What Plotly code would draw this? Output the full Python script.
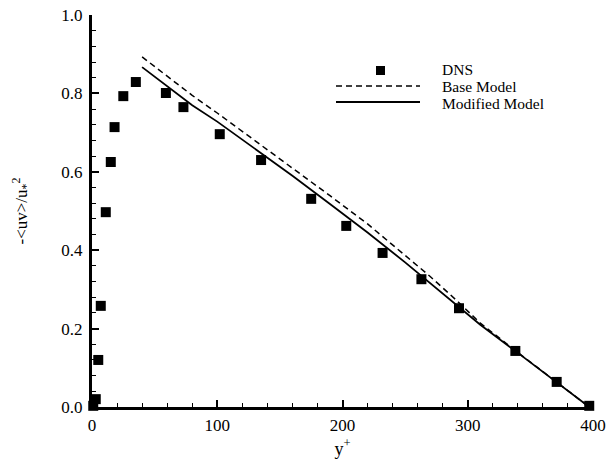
import plotly.graph_objects as go

# DNS data
dns_x = [1, 3, 5, 7, 11, 15, 18, 25, 35, 59, 73, 102, 135, 175, 203, 232, 263, 293, 338, 371, 397]
dns_y = [0.003, 0.02, 0.12, 0.258, 0.497, 0.625, 0.714, 0.793, 0.829, 0.801, 0.765, 0.696,
         0.630, 0.531, 0.462, 0.393, 0.326, 0.252, 0.143, 0.064, 0.003]

# Base model (dashed)
base_x = [40, 60, 80, 100, 130, 160, 190, 220, 250, 270, 290, 310, 340, 370, 397]
base_y = [0.893, 0.843, 0.795, 0.750, 0.680, 0.610, 0.539, 0.467, 0.388, 0.333, 0.275, 0.214,
          0.139, 0.065, 0.0]

# Modified model (solid)
mod_x = [40, 60, 80, 100, 130, 160, 190, 220, 250, 280, 310, 340, 370, 397]
mod_y = [0.867, 0.818, 0.77, 0.728, 0.66, 0.59, 0.518, 0.445, 0.369, 0.289, 0.21, 0.138, 0.065, 0.0]

legend_labels = ["DNS", "Base Model", "Modified Model"]

FONT = "Liberation Serif, Times New Roman, serif"

fig = go.Figure()
fig.add_trace(go.Scatter(x=base_x, y=base_y, mode="lines", name=legend_labels[1],
                         line=dict(color="black", width=1.5, dash="6px,4px"), showlegend=False))
fig.add_trace(go.Scatter(x=mod_x, y=mod_y, mode="lines", name=legend_labels[2],
                         line=dict(color="black", width=1.8), showlegend=False))
fig.add_trace(go.Scatter(x=dns_x, y=dns_y, mode="markers", name=legend_labels[0],
                         marker=dict(symbol="square", size=10, color="black"),
                         cliponaxis=False, showlegend=False))

W, H = 611, 466
L, R, T, B = 92, 18, 15, 59
pw, ph = W - L - R, H - T - B

def px2paper(px, py):
    return (px - L) / pw, 1 - (py - T) / ph

# manual legend
shapes = []
annotations = []
x0, y0 = px2paper(336, 86)
x1, _ = px2paper(420, 86)
shapes.append(dict(type="line", xref="paper", yref="paper", x0=x0, x1=x1, y0=y0, y1=y0,
                   line=dict(color="black", width=1.5, dash="6px,4px")))
x0, y0 = px2paper(336, 102)
x1, _ = px2paper(420, 102)
shapes.append(dict(type="line", xref="paper", yref="paper", x0=x0, x1=x1, y0=y0, y1=y0,
                   line=dict(color="black", width=1.8)))
sx0, sy0 = px2paper(376, 66)
sx1, sy1 = px2paper(385, 75)
shapes.append(dict(type="rect", xref="paper", yref="paper", x0=sx0, x1=sx1, y0=sy1, y1=sy0,
                   fillcolor="black", line=dict(width=0)))
for lbl, py in zip(legend_labels, [69, 86, 103]):
    ax, ay = px2paper(441, py)
    annotations.append(dict(xref="paper", yref="paper", x=ax, y=ay, text=lbl, showarrow=False,
                            xanchor="left", yanchor="middle", borderpad=0,
                            font=dict(family=FONT, size=15.5, color="black")))

fig.update_layout(
    width=W, height=H,
    margin=dict(l=L, r=R, t=T, b=B),
    paper_bgcolor="white", plot_bgcolor="white",
    font=dict(family=FONT, size=17, color="black"),
    shapes=shapes, annotations=annotations,
    showlegend=False,
)
fig.update_xaxes(
    range=[0, 400], tickvals=[0, 100, 200, 300, 400],
    showline=True, linecolor="black", linewidth=3,
    ticks="inside", ticklen=7, tickwidth=1.5, tickcolor="black",
    minor=dict(dtick=20, ticks="inside", ticklen=4, tickwidth=1.2, tickcolor="black"),
    showgrid=False, zeroline=False, automargin=False,
    ticklabelstandoff=1,
    title=dict(text="y<sup>+</sup>", font=dict(size=18), standoff=8),
    tickfont=dict(size=17),
)
fig.update_yaxes(
    range=[0, 1.0], tickvals=[0, 0.2, 0.4, 0.6, 0.8, 1.0], tickformat=".1f",
    showline=True, linecolor="black", linewidth=3,
    ticks="inside", ticklen=7, tickwidth=1.5, tickcolor="black",
    minor=dict(dtick=0.04, ticks="inside", ticklen=4, tickwidth=1.2, tickcolor="black"),
    showgrid=False, zeroline=False, automargin=False,
    ticklabelstandoff=3,
    title=dict(text="-&lt;uv&gt;/u<sub>*</sub><sup>2</sup>", font=dict(size=17), standoff=30),
    tickfont=dict(size=17),
)

fig.write_html("out.html")
